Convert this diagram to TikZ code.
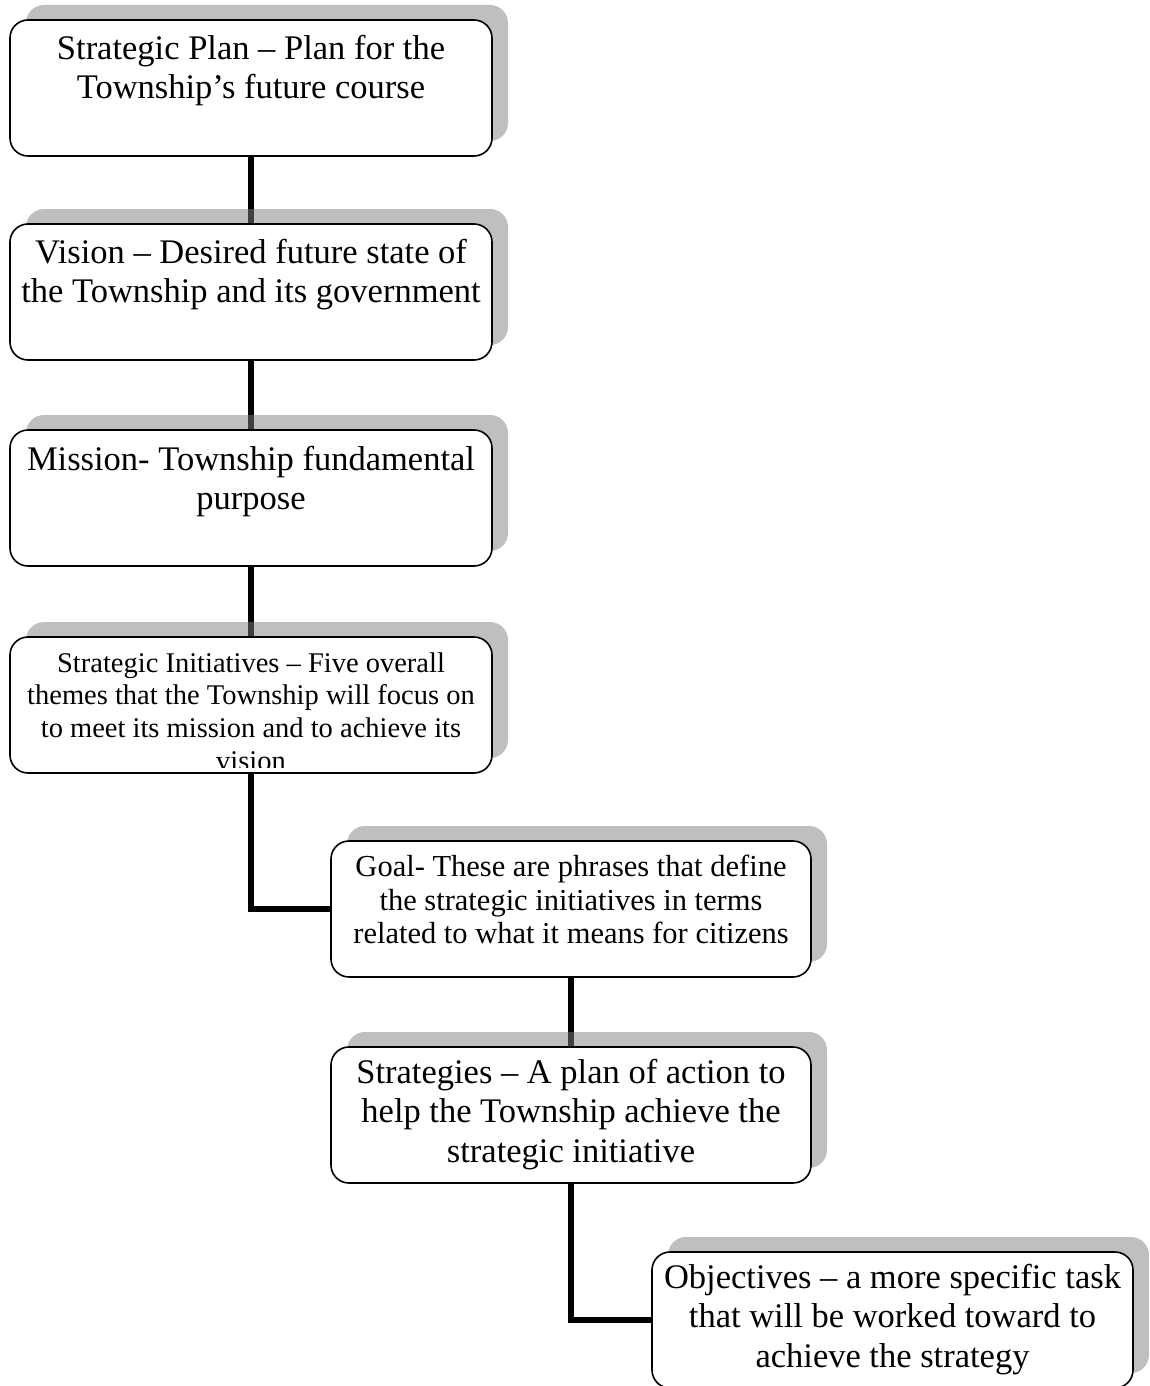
\documentclass[tikz,border=0pt]{standalone}
\usepackage{fontspec}
\setmainfont{Liberation Serif}
\usetikzlibrary{shadows}
\usetikzlibrary{backgrounds}
\definecolor{shadowgray}{gray}{0.5}

\tikzset{
  stage/.style={draw, line width=1.6pt, rounded corners=18pt, fill=white,
    minimum width=482pt, minimum height=136pt, inner sep=0pt,
    general shadow={fill=shadowgray, fill opacity=.5, draw=none,
      shadow xshift=16pt, shadow yshift=15pt}},
  stagetext/.style={text width=474pt, align=flush center, inner sep=0pt, anchor=base,
    font=\fontsize{34.5}{39.5}\selectfont},
  link/.style={line width=5.5pt}
}

\begin{document}
\begin{tikzpicture}[x=1pt,y=-1pt]
\useasboundingbox (0,0) rectangle (1149,1386);

% left column
\node [stage] (plan) at (251,88) {};
\node [stagetext] (plantext) at ([yshift=-40pt]plan.north) {Strategic Plan -- Plan for the\\ Township’s future course};
\node [stage] (vision) at (251,292) {};
\node [stagetext] (visiontext) at ([yshift=-40pt]vision.north) {Vision -- Desired future state of\\ the Township and its government};
\node [stage] (mission) at (251,498) {};
\node [stagetext] (missiontext) at ([yshift=-41pt]mission.north) {Mission- Township fundamental\\ purpose};
\node [stage] (themes) at (251,705) {};
\begin{scope}
\clip ([xshift=3pt,yshift=6.5pt]themes.south west) rectangle ([xshift=-3pt]themes.north east);
\node [stagetext, font=\fontsize{28.5}{32.6}\selectfont] (themestext) at ([yshift=-36pt]themes.north) {Strategic Initiatives -- Five overall\\ themes that the Township will focus on\\ to meet its mission and to achieve its\\ vision};
\end{scope}

% stepped boxes
\node [stage, minimum width=480pt] (goal) at (571,909) {};
\node [stagetext, font=\fontsize{30.5}{33.8}\selectfont] (goaltext) at ([yshift=-36pt]goal.north) {Goal- These are phrases that define\\ the strategic initiatives in terms\\ related to what it means for citizens};
\node [stage, minimum width=480pt] (actions) at (571,1115) {};
\node [stagetext] (actionstext) at ([yshift=-37pt]actions.north) {Strategies -- A plan of action to\\ help the Township achieve the\\ strategic initiative};
\node [stage, minimum width=481pt] (tasks) at (892.5,1320) {};
\node [stagetext] (taskstext) at ([yshift=-37pt]tasks.north) {Objectives -- a more specific task\\ that will be worked toward to\\ achieve the strategy};

\begin{scope}[on background layer]
\draw [link] (plan.south) -- (vision.north);
\draw [link] (vision.south) -- (mission.north);
\draw [link] (mission.south) -- (themes.north);
\draw [link] (themes.south) |- (goal.west);
\draw [link] (goal.south) -- (actions.north);
\draw [link] (actions.south) |- (tasks.west);
\end{scope}

\end{tikzpicture}
\end{document}
